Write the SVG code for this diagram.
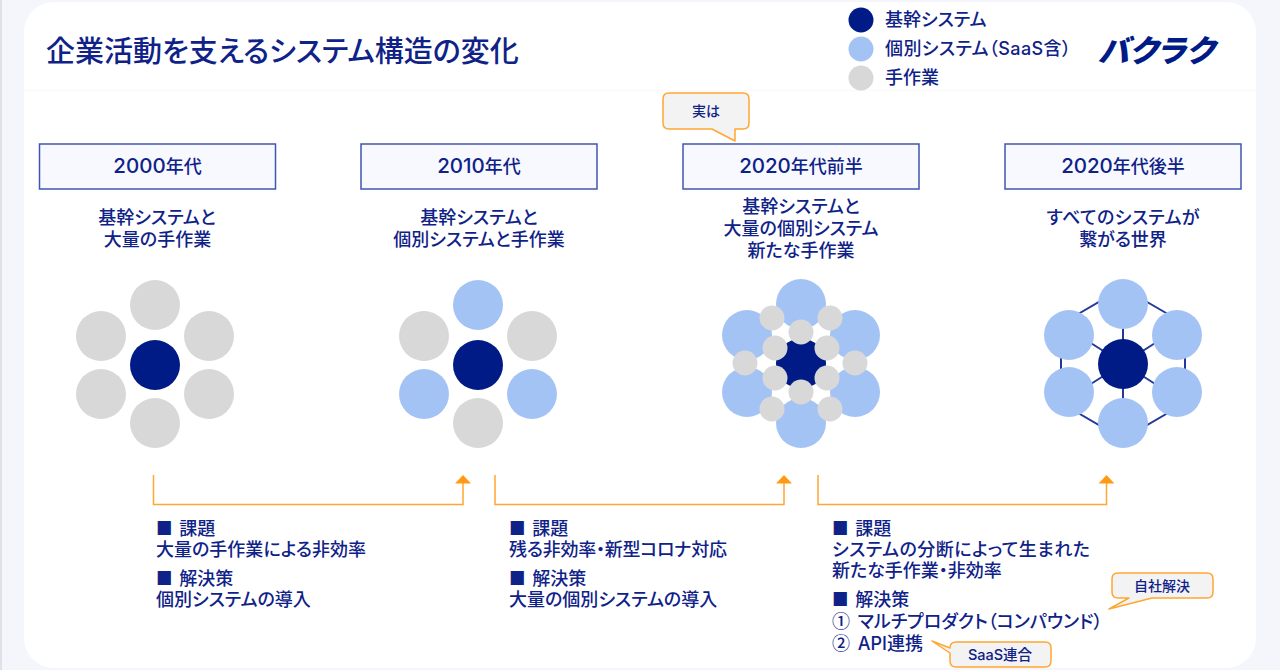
<svg xmlns="http://www.w3.org/2000/svg" width="1280" height="670" viewBox="0 0 1280 670">
<style>
text{font-family:Inter,"Noto Sans CJK JP","Noto Sans",sans-serif;fill:#0f2288;font-weight:500;font-feature-settings:"palt"}
.t18{font-size:18px}
.n{font-size:20.500px}
.j{font-family:"Noto Sans CJK JP",sans-serif}
.c{text-anchor:middle}
.hd{fill:#f8f9fe;stroke:#3f55ae;stroke-width:1.5}
.b{fill:#001a86}.l{fill:#a4c3f5}.g{fill:#d8d8d8}
.conn{fill:none;stroke:#ffa733;stroke-width:1.5}
.arr{fill:#ff9a14}
.call{fill:#f3f3f3;stroke:#ffa733;stroke-width:1.5;stroke-linejoin:round}
.lk{stroke:#22389a;stroke-width:2;fill:none}
</style>
<rect width="1280" height="670" fill="#f4f6fc"/>
<rect width="2" height="670" fill="#dfe1e6"/>
<rect x="24" y="2" width="1232" height="666" rx="30" fill="#fff"/>
<line x1="24" y1="90.500" x2="1256" y2="90.500" stroke="#fafafa" stroke-width="1.500"/>
<g id="title"><text x="46" y="62" font-size="29">企業活動を支えるシステム構造の変化</text></g>
<g id="legend">
<circle class="b" cx="861" cy="20" r="12.500"/><circle class="l" cx="861" cy="49" r="12.500"/><circle class="g" cx="861" cy="78" r="12.500"/>
<text class="t18" x="885" y="26">基幹システム</text>
<text class="t18" x="885" y="55" textLength="186">個別システム（SaaS含）</text>
<text class="t18" x="885" y="84">手作業</text>
</g>
<g id="logo"><text x="1098" y="62" font-size="31" textLength="116" lengthAdjust="spacingAndGlyphs" style="font-weight:900;font-style:italic;fill:#001a86">バクラク</text></g>

<g id="header-2000"><rect class="hd" x="39.500" y="144" width="236" height="45"/><text class="t18 c" x="157.500" y="173"><tspan class="n">2000</tspan>年代</text></g>
<g id="header-2010"><rect class="hd" x="361" y="144" width="236" height="45"/><text class="t18 c" x="479" y="173"><tspan class="n">2010</tspan>年代</text></g>
<g id="header-2020a"><rect class="hd" x="683" y="144" width="236" height="45"/><text class="t18 c" x="801" y="173"><tspan class="n">2020</tspan>年代前半</text></g>
<g id="header-2020b"><rect class="hd" x="1005" y="144" width="236" height="45"/><text class="t18 c" x="1123" y="173"><tspan class="n">2020</tspan>年代後半</text></g>

<g id="sub-2000"><text class="t18 c" x="157" y="224">基幹システムと</text><text class="t18 c" x="157.500" y="246">大量の手作業</text></g>
<g id="sub-2010"><text class="t18 c" x="479" y="224">基幹システムと</text><text class="t18 c" x="479" y="246">個別システムと手作業</text></g>
<g id="sub-2020a"><text class="t18 c" x="801" y="213">基幹システムと</text><text class="t18 c" x="801" y="235">大量の個別システム</text><text class="t18 c" x="801" y="257">新たな手作業</text></g>
<g id="sub-2020b"><text class="t18 c" x="1123" y="224" textLength="153">すべてのシステムが</text><text class="t18 c" x="1123" y="246">繋がる世界</text></g>

<g id="cluster-2000">
<circle class="g" cx="155" cy="305" r="25"/><circle class="g" cx="101" cy="336" r="25"/><circle class="g" cx="209" cy="336" r="25"/><circle class="g" cx="101" cy="394" r="25"/><circle class="g" cx="209" cy="394" r="25"/><circle class="g" cx="155" cy="423" r="25"/><circle class="b" cx="155" cy="365" r="25"/>
</g>
<g id="cluster-2010">
<circle class="l" cx="478" cy="305" r="25"/><circle class="g" cx="424" cy="336" r="25"/><circle class="g" cx="532" cy="336" r="25"/><circle class="l" cx="424" cy="394" r="25"/><circle class="l" cx="532" cy="394" r="25"/><circle class="g" cx="478" cy="423" r="25"/><circle class="b" cx="478" cy="365" r="25"/>
</g>
<g id="cluster-2020a">
<circle class="l" cx="801" cy="304" r="25"/><circle class="l" cx="747" cy="335" r="25"/><circle class="l" cx="855" cy="335" r="25"/><circle class="l" cx="747" cy="392" r="25"/><circle class="l" cx="855" cy="392" r="25"/><circle class="l" cx="801" cy="423" r="25"/><circle class="b" cx="801" cy="363.500" r="25"/>
<circle class="g" cx="772" cy="318" r="12.500"/><circle class="g" cx="830" cy="318" r="12.500"/><circle class="g" cx="801" cy="332" r="12.500"/><circle class="g" cx="775" cy="348" r="12.500"/><circle class="g" cx="827" cy="348" r="12.500"/><circle class="g" cx="745" cy="363" r="12.500"/><circle class="g" cx="855" cy="363" r="12.500"/><circle class="g" cx="775" cy="378" r="12.500"/><circle class="g" cx="827" cy="378" r="12.500"/><circle class="g" cx="801" cy="392" r="12.500"/><circle class="g" cx="772" cy="409" r="12.500"/><circle class="g" cx="830" cy="409" r="12.500"/>
</g>
<g id="cluster-2020b">
<path class="lk" d="M1123 288L1185 324V403L1123 439L1061 403V324ZM1123 288V439M1061 324L1185 403M1185 324L1061 403"/>
<circle class="l" cx="1123" cy="304" r="25"/><circle class="l" cx="1069" cy="335" r="25"/><circle class="l" cx="1177" cy="335" r="25"/><circle class="l" cx="1069" cy="392" r="25"/><circle class="l" cx="1177" cy="392" r="25"/><circle class="l" cx="1123" cy="423" r="25"/><circle class="b" cx="1123" cy="364" r="25"/>
</g>

<g id="connectors">
<path class="conn" d="M153.500 475V504.500H463V482"/><polygon class="arr" points="463,475 471,483.500 455,483.500"/>
<path class="conn" d="M495 475V504.500H784V482"/><polygon class="arr" points="784,475 792,483.500 776,483.500"/>
<path class="conn" d="M818 475V504.500H1106.500V482"/><polygon class="arr" points="1106.500,475 1114.500,483.500 1098.500,483.500"/>
</g>

<g id="text-1">
<text class="t18" x="156" y="535" word-spacing="2">■ 課題</text><text class="t18" x="156" y="556">大量の手作業による非効率</text>
<text class="t18" x="156" y="585" word-spacing="2">■ 解決策</text><text class="t18" x="156" y="606">個別システムの導入</text>
</g>
<g id="text-2">
<text class="t18" x="509" y="535" word-spacing="2">■ 課題</text><text class="t18" x="509" y="556" textLength="218">残る非効率・新型コロナ対応</text>
<text class="t18" x="509" y="585" word-spacing="2">■ 解決策</text><text class="t18" x="509" y="606">大量の個別システムの導入</text>
</g>
<g id="text-3">
<text class="t18" x="832" y="535" word-spacing="2">■ 課題</text><text class="t18" x="832" y="556" textLength="258">システムの分断によって生まれた</text><text class="t18" x="832" y="577">新たな手作業・非効率</text>
<text class="t18" x="832" y="606" word-spacing="2">■ 解決策</text><text class="t18" x="832" y="628" word-spacing="3"><tspan class="j">①</tspan> マルチプロダクト（コンパウンド）</text><text class="t18" x="832" y="650" word-spacing="3"><tspan class="j">②</tspan> API連携</text>
</g>

<g id="callout-jitsuha"><path class="call" d="M669 93H743Q749 93 749 99V123Q749 129 743 129H735L735 141L712 129H669Q663 129 663 123V99Q663 93 669 93Z"/><text class="c" x="706" y="116" font-size="14">実は</text></g>
<g id="callout-jisha"><path class="call" d="M1118 573H1207Q1213 573 1213 579V592Q1213 598 1207 598H1152L1109 609L1129 598H1118Q1112 598 1112 592V579Q1112 573 1118 573Z"/><text class="c" x="1162" y="591" font-size="14">自社解決</text></g>
<g id="callout-saas"><path class="call" d="M956 642H1045Q1051 642 1051 648V661Q1051 667 1045 667H956Q950 667 950 661V653L932 641L950 648Q950 642 956 642Z"/><text class="c" x="1000" y="660" font-size="14.500">SaaS連合</text></g>
</svg>
